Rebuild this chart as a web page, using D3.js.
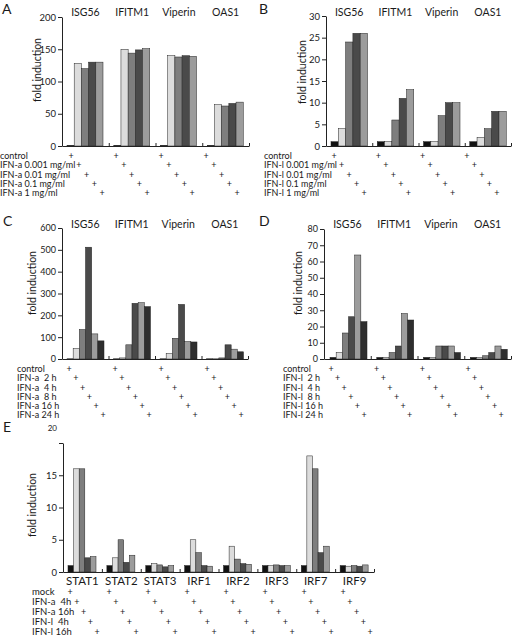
<!DOCTYPE html>
<html><head><meta charset="utf-8">
<script src="https://cdn.jsdelivr.net/npm/d3@7"></script>
<style>
body{margin:0;background:#fff;}
svg{opacity:0.999;}
svg text{font-family:Lato,"Open Sans",sans-serif;fill:#1a1a1a;white-space:pre;}
</style></head>
<body><svg id="c" width="512" height="636"></svg>
<script>
// ---------- data ----------
const genes = ["ISG56","IFITM1","Viperin","OAS1"];
const doseA = ["control","IFN-a 0.001 mg/ml","IFN-a 0.01 mg/ml","IFN-a 0.1 mg/ml","IFN-a 1 mg/ml"];
const valuesA = [[1,128,120,130,130],[1,150,144,149,151],[1,140,138,140,139],[1,64,62,66,68]];
const ticksA = [0,50,100,150,200];

const doseB = ["control","IFN-l 0.001 mg/ml","IFN-l 0.01 mg/ml","IFN-l 0.1 mg/ml","IFN-l 1 mg/ml"];
const valuesB = [[1,4,24,26,26],[1,1,6,11,13],[1,1,7,10,10],[1,2,4,8,8]];
const ticksB = [0,5,10,15,20,25,30];

const timeC = ["control","IFN-a  2 h","IFN-a  4 h","IFN-a  8 h","IFN-a 16 h","IFN-a 24 h"];
const valuesC = [[1,48,135,512,115,83],[1,5,65,255,258,240],[1,25,95,250,80,78],[1,1,5,65,45,33]];
const ticksC = [0,100,200,300,400,500,600];

const timeD = ["control","IFN-l  2 h","IFN-l  4 h","IFN-l  8 h","IFN-l 16 h","IFN-l 24 h"];
const valuesD = [[1,4,16,26,64,23],[1,1,4,8,28,24],[1,1,8,8,8,4],[1,1,2,4,8,6]];
const ticksD = [0,10,20,30,40,50,60,70,80];

const factorsE = ["STAT1","STAT2","STAT3","IRF1","IRF2","IRF3","IRF7","IRF9"];
const treatE = ["mock","IFN-a  4h","IFN-a 16h","IFN-l  4h","IFN-l 16h"];
const valuesE = [[1,16,16,2.2,2.4],[1,2.2,5,1.5,2.6],[1,1.3,1.1,0.8,1.0],[1,5,3,1,0.9],
                 [1,4,2,1.3,1.2],[1,1,1.1,1,1],[1,18,16,3,4],[1,0.9,1,0.9,1.1]];
const ticksE = [0,5,10,15,20];

// ---------- drawing ----------
const svg = d3.select("#c");
const col5 = ["#111","#dcdcdc","#7e7e7e","#4a4a4a","#9c9c9c"];
const col6 = ["#111","#dcdcdc","#7e7e7e","#4a4a4a","#9c9c9c","#2e2e2e"];

function panel(cfg){
  const g = svg.append("g");
  const y = d3.scaleLinear().domain([0, cfg.ticks[cfg.ticks.length-1]]).range([cfg.yBot, cfg.yTop]);
  const xg = d3.scaleBand().domain(cfg.cats).range([cfg.x0, cfg.x1]);
  const xi = d3.scaleBand().domain(cfg.series).range(cfg.inner);
  const color = d3.scaleOrdinal().domain(cfg.series).range(cfg.colors);

  // bars
  cfg.cats.forEach((c, ci) => {
    g.append("g").selectAll("rect").data(cfg.series.map((s, si) => ({s, v: cfg.values[ci][si]})))
      .join("rect")
      .attr("x", d => xg(c) + xi(d.s))
      .attr("y", d => y(d.v))
      .attr("width", xi.bandwidth())
      .attr("height", d => y(0) - y(d.v))
      .attr("fill", d => color(d.s))
      .attr("stroke", "#222").attr("stroke-width", 0.5);
  });

  // y axis
  const ya = g.append("g").attr("transform", `translate(${cfg.x0},0)`)
    .call(d3.axisLeft(y).tickValues(cfg.ticks).tickSize(4).tickSizeOuter(0).tickPadding(2));
  ya.select(".domain").attr("stroke", "#222");
  ya.selectAll(".tick line").attr("stroke", "#222");
  ya.selectAll(".tick text").attr("font-size", cfg.tickFont || 9.5).attr("font-family", null);
  if (cfg.topLabelShift) {
    ya.selectAll(".tick text").filter(d => d === cfg.ticks[cfg.ticks.length-1])
      .attr("dy", cfg.topLabelShift).attr("font-size", 8);
  }

  // x axis line with inward separators
  const xa = g.append("g").attr("transform", `translate(0,${cfg.yBot})`)
    .call(d3.axisBottom(d3.scaleLinear().domain([cfg.x0, cfg.x1]).range([cfg.x0, cfg.x1]))
      .tickValues(cfg.cats.map(c => xg(c) + xg.bandwidth())).tickSize(-3).tickSizeOuter(0).tickFormat(""));
  xa.select(".domain").attr("stroke", "#222");
  xa.selectAll(".tick line").attr("stroke", "#222");

  // y title
  g.append("text").attr("transform", `translate(${cfg.yTitleX},${cfg.yTitleY}) rotate(-90)`)
    .attr("text-anchor", "middle").attr("font-size", 10.5).text("fold induction");

  // category labels
  g.append("g").selectAll("text").data(cfg.cats).join("text")
    .attr("x", c => xg(c) + xg.bandwidth()/2 + (cfg.catDx || 0))
    .attr("y", cfg.catY).attr("text-anchor", "middle").attr("font-size", cfg.catFont || 10.5)
    .text(c => c);

  // row labels and plus marks
  const pg = d3.scaleBand().domain(cfg.cats).range([cfg.p0, cfg.p0 + cfg.cats.length * cfg.pStep]);
  const pi = d3.scalePoint().domain(cfg.series).range([0, cfg.pInner]);
  const ry = d3.scalePoint().domain(cfg.series).range([cfg.rowY0, cfg.rowY0 + (cfg.series.length-1) * cfg.rowStep]);
  g.append("g").selectAll("text").data(cfg.series).join("text")
    .attr("x", cfg.rowX).attr("y", s => ry(s)).attr("dy", "0.35em")
    .attr("font-size", cfg.rowFont || 9).text(s => s);
  cfg.cats.forEach(c => {
    g.append("g").selectAll("text").data(cfg.series).join("text")
      .attr("x", s => pg(c) + pi(s)).attr("y", s => ry(s)).attr("dy", "0.35em")
      .attr("text-anchor", "middle").attr("font-size", 9).text("+");
  });

  // panel letter
  g.append("text").attr("x", cfg.letterX).attr("y", cfg.letterY).attr("font-size", 14)
    .attr("font-family", "Liberation Sans, Arial, sans-serif").text(cfg.letter);
}

panel({letter:"A", letterX:2, letterY:14, cats:genes, series:doseA, values:valuesA, ticks:ticksA,
  colors:col5, x0:62, x1:249, yTop:17, yBot:146, inner:[5,41], yTitleX:41, yTitleY:70, catY:16,
  p0:71, pStep:45, pInner:31, rowX:0, rowY0:156, rowStep:9.3});

panel({letter:"B", letterX:259, letterY:14, cats:genes, series:doseB, values:valuesB, ticks:ticksB,
  colors:col5, x0:326, x1:511, yTop:16, yBot:146, inner:[5,41.5], yTitleX:306, yTitleY:72, catY:16,
  p0:334, pStep:44.3, pInner:30, rowX:264, rowY0:156, rowStep:9.3});

panel({letter:"C", letterX:3, letterY:226, cats:genes, series:timeC, values:valuesC, ticks:ticksC,
  colors:col6, x0:62, x1:248, yTop:228, yBot:359, inner:[5,42], yTitleX:36, yTitleY:283, catY:228,
  p0:69, pStep:46, pInner:34, rowX:17, rowY0:369, rowStep:9.2, tickFont:9});

panel({letter:"D", letterX:259, letterY:226, cats:genes, series:timeD, values:valuesD, ticks:ticksD,
  colors:col6, x0:324, x1:511, yTop:229, yBot:359, inner:[6,43], yTitleX:302, yTitleY:283, catY:228,
  p0:331, pStep:45.7, pInner:33, rowX:283, rowY0:369, rowStep:9.2, tickFont:9});

panel({letter:"E", letterX:3, letterY:432, cats:factorsE, series:treatE, values:valuesE, ticks:ticksE,
  colors:col5, x0:63, x1:374, yTop:443, yBot:572, inner:[5,33], yTitleX:36, yTitleY:505, catY:585,
  catFont:11.5, p0:70, pStep:39, pInner:27, rowX:32, rowY0:592, rowStep:10, rowFont:9.5, topLabelShift:"-1.6em"});
</script></body></html>
